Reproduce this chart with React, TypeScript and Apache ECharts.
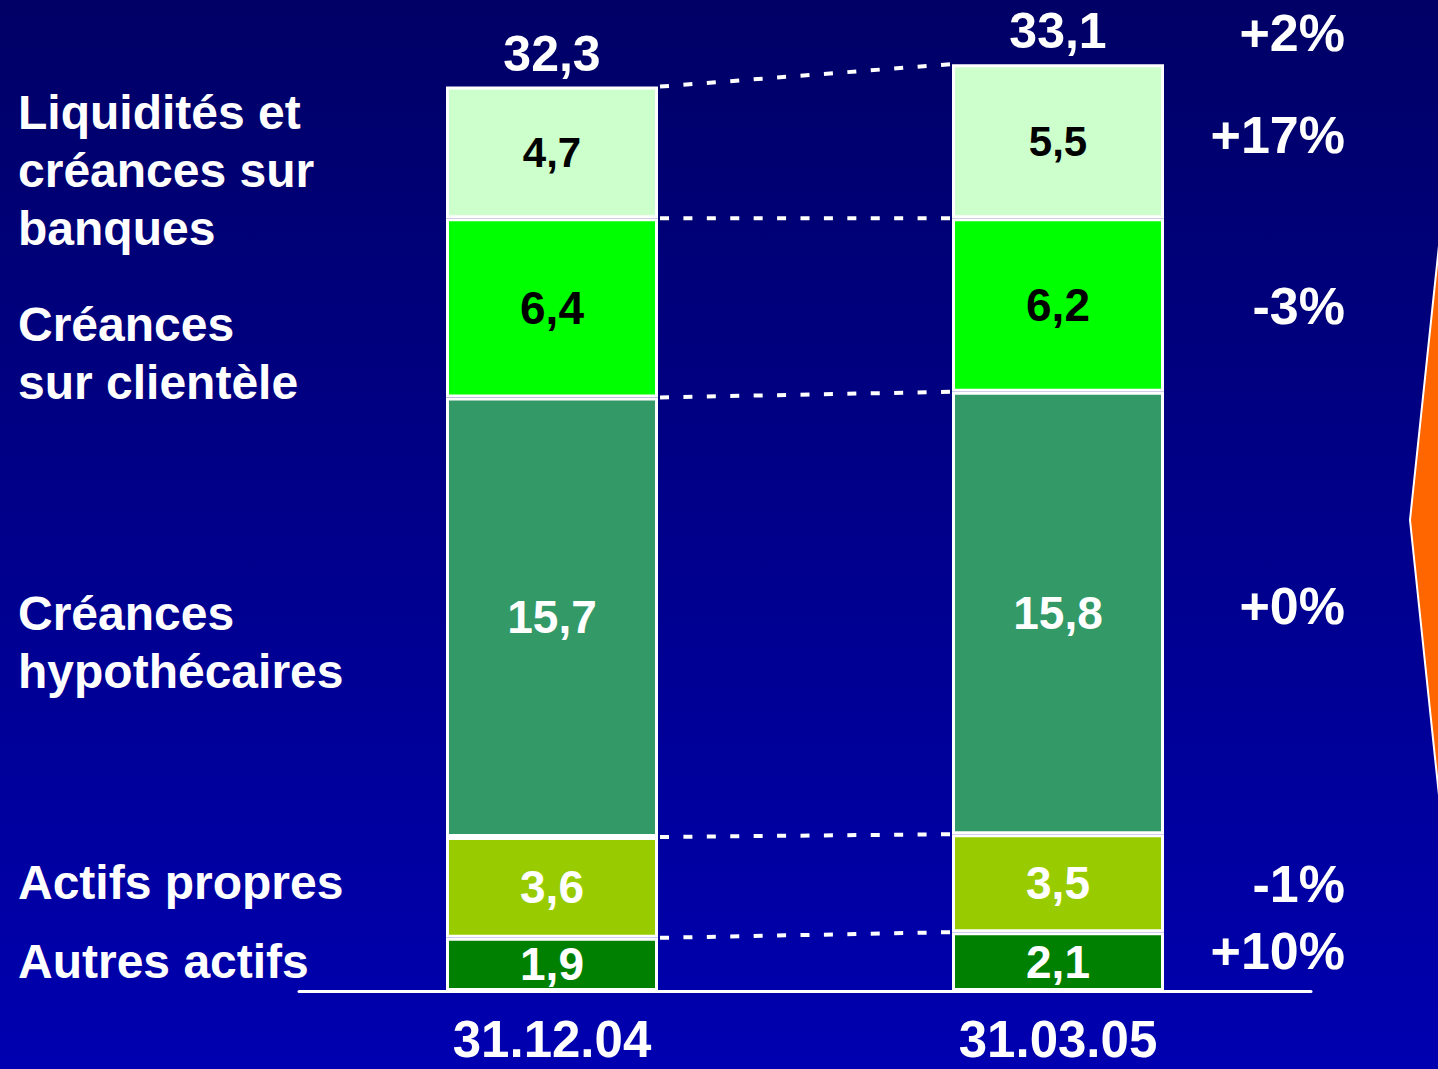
import React, { useEffect, useRef } from "react";
import * as echarts from "echarts";

// ---- Data ----
const categories = ["31.12.04", "31.03.05"];
const seriesNames = [
  "Autres actifs",
  "Actifs propres",
  "Créances hypothécaires",
  "Créances sur clientèle",
  "Liquidités et créances sur banques",
];
const autresActifs = [1.9, 2.1];
const actifsPropres = [3.6, 3.5];
const creancesHypo = [15.7, 15.8];
const creancesClientele = [6.4, 6.2];
const liquidites = [4.7, 5.5];
const totals = [32.3, 33.1];
const changes = ["+2%", "+17%", "-3%", "+0%", "-1%", "+10%"];
const leftLabels = [
  "Liquidités et\ncréances sur\nbanques",
  "Créances\nsur clientèle",
  "Créances\nhypothécaires",
  "Actifs propres",
  "Autres actifs",
];

// ---- Layout / style (kept apart from data) ----
const W = 1438;
const H = 1069;
const FONT = "'Liberation Sans', Arial, sans-serif";
const BAR_W = 212;
const segColors = ["#008000", "#99CC00", "#339966", "#00FF00", "#CCFFCC"];
const segLabelColors = ["#FFFFFF", "#FFFFFF", "#FFFFFF", "#000000", "#000000"];
const segLabelSizes = [46, 46, 46, 46, 42];
const leftLabelTops = [83, 295, 584, 853, 932];
const changeCenters = [33, 135, 306, 606, 884, 951];
const DASH = 9;
const DASH_PERIOD = 24;

const fmt = (v: number) => v.toFixed(1).replace(".", ",");

export default function App() {
  const ref = useRef<HTMLDivElement>(null);

  useEffect(() => {
    document.body.style.margin = "0";
    const chart = echarts.init(ref.current!, undefined, { renderer: "svg" });
    const segData = [autresActifs, actifsPropres, creancesHypo, creancesClientele, liquidites];

    const series: any[] = segData.map((d, i) => ({
      name: seriesNames[i],
      type: "bar",
      stack: "total",
      barWidth: BAR_W,
      data: d,
      itemStyle: { color: segColors[i], borderColor: "#FFFFFF", borderWidth: 3 },
      label: {
        show: true,
        position: "inside",
        formatter: (p: any) => fmt(p.value),
        color: segLabelColors[i],
        fontSize: segLabelSizes[i],
        fontWeight: "bold",
        fontFamily: FONT,
      },
      z: 2,
    }));
    // total label on top of the stack
    series.push({
      name: "Total",
      type: "bar",
      stack: "total",
      barWidth: BAR_W,
      data: totals.map(() => 0),
      itemStyle: { color: "transparent", borderWidth: 0 },
      label: {
        show: true,
        position: "top",
        distance: 8,
        formatter: (p: any) => fmt(totals[p.dataIndex]),
        color: "#FFFFFF",
        fontSize: 50,
        lineHeight: 50,
        fontWeight: "bold",
        fontFamily: FONT,
      },
      z: 3,
    });

    chart.setOption({
      animation: false,
      backgroundColor: new echarts.graphic.LinearGradient(0, 0, 0, 1, [
        { offset: 0, color: "#000066" },
        { offset: 1, color: "#0000B0" },
      ]),
      grid: { left: 299, right: W - 1311, top: 39, bottom: H - 991 },
      xAxis: {
        type: "category",
        data: categories,
        axisLine: { show: true, lineStyle: { color: "#FFFFFF", width: 3 } },
        axisTick: { show: false },
        axisLabel: {
          color: "#FFFFFF",
          fontSize: 51,
          lineHeight: 42,
          fontWeight: "bold",
          fontFamily: FONT,
          margin: 27,
        },
      },
      yAxis: { type: "value", min: 0, max: 34, show: false, splitLine: { show: false } },
      series,
    });

    // connectors, side labels
    const graphics: any[] = [];
    const x0 = chart.convertToPixel({ xAxisIndex: 0 }, categories[0]) as number;
    const x1 = chart.convertToPixel({ xAxisIndex: 0 }, categories[1]) as number;
    const cum = [0, 0];
    segData.forEach((d) => {
      cum[0] += d[0];
      cum[1] += d[1];
      const ya = chart.convertToPixel({ yAxisIndex: 0 }, cum[0]) as number;
      const yb = chart.convertToPixel({ yAxisIndex: 0 }, cum[1]) as number;
      const sx = x0 + BAR_W / 2 + 2;
      const ex = x1 - BAR_W / 2 - 2;
      const len = Math.hypot(ex - sx, yb - ya);
      const n = Math.max(1, Math.round((len - DASH) / DASH_PERIOD));
      const gap = (len - DASH) / n - DASH;
      graphics.push({
        type: "line",
        shape: { x1: sx, y1: ya, x2: ex, y2: yb },
        style: { stroke: "#FFFFFF", lineWidth: 4, lineDash: [DASH, gap] },
        z: 1,
      });
    });

    leftLabels.forEach((t, i) => {
      graphics.push({
        type: "text",
        left: 18,
        top: leftLabelTops[i],
        style: {
          text: t,
          fill: "#FFFFFF",
          fontSize: 48,
          lineHeight: 58,
          fontWeight: "bold",
          fontFamily: FONT,
        },
        z: 5,
      });
    });

    changes.forEach((t, i) => {
      graphics.push({
        type: "text",
        x: 1345,
        y: changeCenters[i],
        style: {
          text: t,
          fill: "#FFFFFF",
          fontSize: 52,
          fontWeight: "bold",
          fontFamily: FONT,
          align: "right",
          verticalAlign: "middle",
        },
        z: 5,
      });
    });

    graphics.push({
      type: "polygon",
      shape: {
        points: [
          [1440, 236],
          [1410, 520],
          [1440, 805],
          [1460, 805],
          [1460, 236],
        ],
      },
      style: { fill: "#FF6600", stroke: "#FFFFFF", lineWidth: 2 },
      z: 4,
    });

    chart.setOption({ graphic: graphics });

    return () => chart.dispose();
  }, []);

  return (
    <div
      ref={ref}
      style={{ position: "absolute", left: 0, top: 0, width: W, height: H }}
    />
  );
}
